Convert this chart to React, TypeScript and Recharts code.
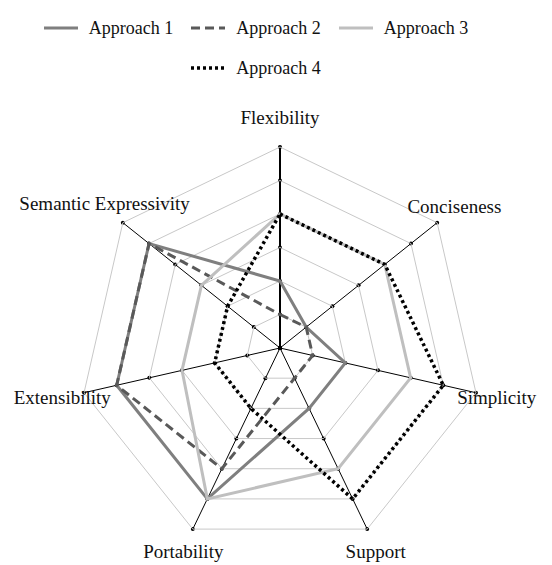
import {
  RadarChart, Radar, PolarGrid, PolarAngleAxis, PolarRadiusAxis, Legend,
} from "recharts";

const criteria = [
  "Flexibility", "Conciseness", "Simplicity", "Support",
  "Portability", "Extensibility", "Semantic Expressivity",
];
const approach1 = [2, 1, 2, 2, 5, 5, 5];
const approach2 = [1, 1, 1, 1, 4, 5, 5];
const approach3 = [4, 4, 4, 4, 5, 3, 3];
const approach4 = [4, 4, 5, 5, 2, 2, 2];
const levels = [0, 1, 2, 3, 4, 5, 6];

const data = criteria.map((c, i) => ({
  criterion: c,
  a1: approach1[i],
  a2: approach2[i],
  a3: approach3[i],
  a4: approach4[i],
}));

const series = [
  { key: "a1", name: "Approach 1", color: "#7f7f7f", dash: undefined, width: 3 },
  { key: "a2", name: "Approach 2", color: "#595959", dash: "9 5", width: 3 },
  { key: "a3", name: "Approach 3", color: "#bfbfbf", dash: undefined, width: 3 },
  { key: "a4", name: "Approach 4", color: "#000000", dash: "3 3", width: 3.5 },
];

const FONT = "'Liberation Serif', 'Times New Roman', serif";
const W = 536;
const H = 557;
const chartBox = {
  width: W, height: H, cx: 272, cy: 340, outerRadius: 201,
  startAngle: 90, endAngle: -270,
  margin: { top: 0, right: 0, bottom: 0, left: 0 },
};

// nudges for the outer labels, relative to the tick anchor
const labelShift: Record<string, [number, number]> = {
  "Flexibility": [0, -22],
  "Conciseness": [11, -11],
  "Simplicity": [13, 3],
  "Support": [5, 15],
  "Portability": [-6, 15],
  "Extensibility": [-14, 3],
  "Semantic Expressivity": [-12, -14],
};

function AngleTick({ x, y, payload }: any) {
  const [dx, dy] = labelShift[payload.value] || [0, 0];
  return (
    <text
      x={x + dx}
      y={y + dy}
      textAnchor="middle"
      dominantBaseline="central"
      fill="#111"
      style={{ fontFamily: FONT, fontSize: 19 }}
    >
      {payload.value}
    </text>
  );
}

function TickDot({ x, y }: any) {
  return <circle cx={x} cy={y} r={2} fill="#000" />;
}

function LegendBox() {
  return (
    <div style={{
      width: 440, marginLeft: 28, display: "flex", flexWrap: "wrap",
      justifyContent: "center", columnGap: 18, fontFamily: FONT, fontSize: 18,
    }}>
      {series.map((s) => (
        <div key={s.key} style={{ display: "flex", alignItems: "center", height: 40 }}>
          <svg width={34} height={6} style={{ marginRight: 11 }}>
            <line x1={0} y1={3} x2={34} y2={3} stroke={s.color}
              strokeWidth={s.width} strokeDasharray={s.dash} />
          </svg>
          <span style={{ color: "#111" }}>{s.name}</span>
        </div>
      ))}
    </div>
  );
}

// one spoke with its level dots; only one radius axis shows per chart,
// so each spoke gets its own transparent chart underneath the main one
function Spoke({ index }: { index: number }) {
  return (
    <div style={{ position: "absolute", left: 0, top: 0, pointerEvents: "none" }}>
      <RadarChart {...chartBox} data={data}>
        <PolarAngleAxis dataKey="criterion" tick={false} tickLine={false} axisLine={false} />
        <PolarRadiusAxis
          angle={90 - (index * 360) / criteria.length}
          type="number"
          domain={[levels[0], levels[levels.length - 1]]}
          tickCount={levels.length}
          tick={<TickDot />}
          tickLine={false}
          axisLine={{ stroke: "#000", strokeWidth: index === 0 ? 2 : 1 }}
        />
        <Radar dataKey="a1" stroke="none" fill="none" dot={false}
          legendType="none" isAnimationActive={false} />
      </RadarChart>
    </div>
  );
}

export default function App() {
  return (
    <div style={{ position: "relative", width: W, height: H }}>
      {criteria.map((c, i) => (
        <Spoke key={c} index={i} />
      ))}
      <div style={{ position: "absolute", left: 0, top: 0 }}>
        <RadarChart {...chartBox} data={data}>
          <PolarGrid gridType="polygon" radialLines={false} stroke="#c8c8c8" strokeWidth={1} />
          <PolarAngleAxis
            dataKey="criterion"
            tick={<AngleTick />}
            tickLine={false}
            axisLine={false}
          />
          <PolarRadiusAxis
            type="number"
            domain={[levels[0], levels[levels.length - 1]]}
            tickCount={levels.length}
            tick={false}
            axisLine={false}
            tickLine={false}
          />
          {series.map((s) => (
            <Radar
              key={s.key}
              dataKey={s.key}
              name={s.name}
              stroke={s.color}
              strokeWidth={s.width}
              strokeDasharray={s.dash}
              fill="none"
              fillOpacity={0}
              dot={false}
              isAnimationActive={false}
            />
          ))}
          <Legend verticalAlign="top" content={<LegendBox />} wrapperStyle={{ top: 0, left: 0 }} />
        </RadarChart>
      </div>
    </div>
  );
}
